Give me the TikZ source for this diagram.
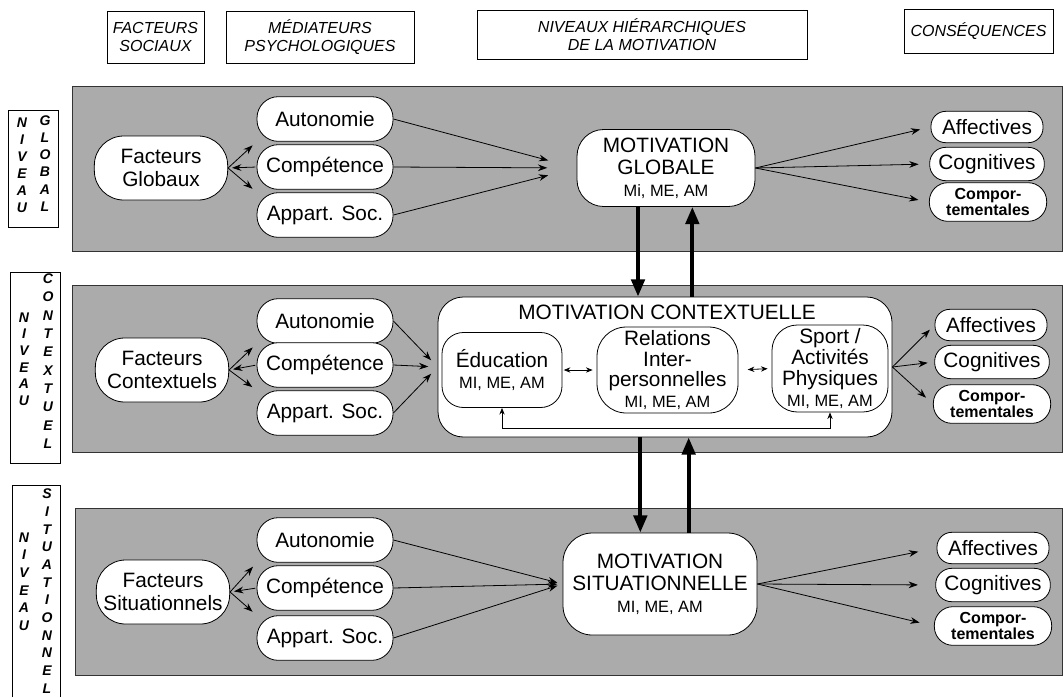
\documentclass[tikz,border=0pt]{standalone}
\usepackage{fontspec}
\setmainfont{Liberation Sans}
\usetikzlibrary{arrows.meta}
\newcommand\myfm{\fontsize{15.6}{16.5}\selectfont}
\newcommand\myfs{\fontsize{12.3}{14}\selectfont}
\newcommand\myfc{\fontsize{12}{12}\selectfont\bfseries}
\newcommand\myfh{\fontsize{12}{14}\selectfont\itshape}
\begin{document}
\begin{tikzpicture}[x=0.75pt,y=-0.75pt,
  band/.style={draw=black!80,line width=0.7pt,fill=black!33},
  hbox/.style={draw,line width=0.6pt,align=center,font=\myfh,inner sep=0pt},
  lbox/.style={draw,line width=0.6pt},
  lett/.style={align=center,inner sep=0pt},
  stad/.style={draw,line width=0.6pt,fill=white,inner sep=1pt,align=center,font=\myfm},
  fact/.style={stad,minimum width=100pt,minimum height=48pt,rounded corners=22pt,font=\fontsize{15.6}{17}\selectfont},
  med/.style={stad,minimum width=102pt,minimum height=33.5pt,rounded corners=16pt},
  motiv/.style={stad},
  sub/.style={stad,font=\fontsize{15.6}{15.7}\selectfont},
  consA/.style={stad,minimum width=84pt,minimum height=23.5pt,rounded corners=11pt},
  consB/.style={stad,minimum width=86pt,minimum height=25pt,rounded corners=12pt},
  consC/.style={stad,minimum width=88pt,minimum height=29pt,rounded corners=14pt,font=\myfc},
  arr/.style={line width=0.6pt,-{Stealth[length=7pt,width=5pt]}},
  darr/.style={line width=0.6pt,{Stealth[length=5pt,width=4pt]}-{Stealth[length=5pt,width=4pt]}},
  big/.style={line width=3pt,-{Triangle[length=13pt,width=10pt]}}
]
\useasboundingbox (0,0) rectangle (1063,697);

% header boxes
\node[hbox,minimum width=72.75pt,minimum height=39pt] (h1) at (155.5,37) {FACTEURS\\SOCIAUX};
\node[hbox,minimum width=141pt,minimum height=39pt] (h2) at (320,37) {MÉDIATEURS\\PSYCHOLOGIQUES};
\node[hbox,minimum width=247.5pt,minimum height=36.75pt] (h3) at (642,34.5) {NIVEAUX HIÉRARCHIQUES\\DE LA MOTIVATION};
\node[hbox,minimum width=111.75pt,minimum height=33pt] (h4) at (978.5,31) {CONSÉQUENCES};

% bands
\draw[band] (72,86) rectangle (1062,251);
\draw[band] (72,285) rectangle (1062,452);
\draw[band] (75,508) rectangle (1062,675);

% left labels
\node[lbox,minimum width=37.5pt,minimum height=87.75pt] (lg) at (33,168.5) {};
\node[lett,font=\fontsize{10.5}{12.75}\selectfont\bfseries\itshape] (lg1) at (22,165) {N\\I\\V\\E\\A\\U};
\node[lett,font=\fontsize{10.5}{12.9}\selectfont\bfseries\itshape] (lg2) at (45,163.5) {G\\L\\O\\B\\A\\L};
\node[lbox,minimum width=37.5pt,minimum height=143.25pt] (lc) at (35,367.5) {};
\node[lett,font=\fontsize{10.5}{12.5}\selectfont\bfseries\itshape] (lc1) at (24,359) {N\\I\\V\\E\\A\\U};
\node[lett,font=\fontsize{10.5}{13.75}\selectfont\bfseries\itshape] (lc2) at (48,361) {C\\O\\N\\T\\E\\X\\T\\U\\E\\L};
\draw[line width=0.6pt] (12,697) |- (60,485) -- (60,697);
\node[lett,font=\fontsize{10.5}{13.25}\selectfont\bfseries\itshape] (ls1) at (24,581.5) {N\\I\\V\\E\\A\\U};
\node[lett,font=\fontsize{10.5}{13.25}\selectfont\bfseries\itshape] (ls2) at (47,591) {S\\I\\T\\U\\A\\T\\I\\O\\N\\N\\E\\L};

% ---------- global level
\node[fact] (fg) at (161,168) {Facteurs\\Globaux};
\node[med] (ga) at (325,119) {Autonomie};
\node[med] (gc) at (325,167) {Compétence};
\node[med] (gs) at (325,215) {Appart. Soc.};
\node[motiv,minimum width=133.5pt,minimum height=57.75pt,rounded corners=20pt] (mg) at (666,168) {MOTIVATION\\GLOBALE\\{\myfs Mi, ME, AM}};
\node[consA] (gaf) at (987,127) {Affectives};
\node[consB] (gco) at (987,164) {Cognitives};
\node[consC] (gcp) at (988,202) {Compor-\\tementales};

\draw[arr,shorten >=4pt] (fg.east) -- (ga.south west);
\draw[arr,shorten <=1pt,shorten >=3pt] (gc.west) -- (fg.east);
\draw[arr,shorten >=4pt] (fg.east) -- (gs.north west);
\draw[arr,shorten >=22pt] (ga.east) -- (mg.west);
\draw[arr,shorten >=22pt] (gc.east) -- (mg.west);
\draw[arr,shorten >=22pt] (gs.east) -- (mg.west);
\draw[arr,shorten >=8pt] (mg.east) -- (gaf.west);
\draw[arr,shorten >=8pt] (mg.east) -- (gco.west);
\draw[arr,shorten >=8pt] (mg.east) -- (gcp.west);

% ---------- contextual level
\node[fact] (fc) at (162,370) {Facteurs\\Contextuels};
\node[med] (ca) at (325,321) {Autonomie};
\node[med] (cc) at (325,365) {Compétence};
\node[med] (cs) at (325,413) {Appart. Soc.};
\node[motiv,minimum width=340.5pt,minimum height=105pt,rounded corners=19pt] (mc) at (665,367) {};
\node[font=\myfm,inner sep=0pt] (mct) at (667,312) {MOTIVATION CONTEXTUELLE};
\node[sub,minimum width=90pt,minimum height=56.25pt,rounded corners=16pt] (edu) at (502,370) {Éducation\\{\myfs MI, ME, AM}};
\node[sub,minimum width=105.75pt,minimum height=64.5pt,rounded corners=22pt,inner sep=0pt] (rel) at (667.5,370) {Relations\\Inter-\\personnelles\\{\myfs MI, ME, AM}};
\node[sub,minimum width=87pt,minimum height=65.25pt,rounded corners=19pt,inner sep=0pt] (spo) at (830,368.5) {Sport /\\Activités\\Physiques\\{\myfs MI, ME, AM}};
\node[consA] (caf) at (991,325) {Affectives};
\node[consB] (cco) at (992,362) {Cognitives};
\node[consC] (ccp) at (992,404) {Compor-\\tementales};

\draw[arr,shorten >=4pt] (fc.east) -- (ca.south west);
\draw[arr,shorten <=1pt,shorten >=3pt] (cc.west) -- (fc.east);
\draw[arr,shorten >=4pt] (fc.east) -- (cs.north west);
\draw[arr,shorten >=7pt] (ca.east) -- (mc.west);
\draw[arr,shorten >=7pt] (cc.east) -- (mc.west);
\draw[arr,shorten >=7pt] (cs.east) -- (mc.west);
\draw[darr,shorten <=1pt,shorten >=3pt] (edu.east) -- (rel.west);
\draw[darr,shorten <=7pt,shorten >=3pt] (rel.east) -- (spo.west);
\draw[darr] (edu.south) -- ++(0,-15pt) -| (spo.south);
\draw[arr,shorten >=5pt] (mc.east) -- (caf.west);
\draw[arr,shorten >=5pt] (mc.east) -- (cco.west);
\draw[arr,shorten >=7pt] (mc.east) -- (ccp.west);

% ---------- situational level
\node[fact] (fs) at (163,592) {Facteurs\\Situationnels};
\node[med] (sa) at (325,540) {Autonomie};
\node[med] (sc) at (325,588) {Compétence};
\node[med] (ss) at (325,638) {Appart. Soc.};
\node[motiv,minimum width=145.5pt,minimum height=76.5pt,rounded corners=22pt] (ms) at (660,584) {MOTIVATION\\SITUATIONNELLE\\{\myfs MI, ME, AM}};
\node[consA] (saf) at (993,548) {Affectives};
\node[consB] (sco) at (993,585) {Cognitives};
\node[consC] (scp) at (993,626) {Compor-\\tementales};

\draw[arr,shorten >=4pt] (fs.east) -- (sa.south west);
\draw[arr,shorten <=1pt,shorten >=3pt] (sc.west) -- (fs.east);
\draw[arr,shorten >=4pt] (fs.east) -- (ss.north west);
\draw[arr,shorten >=4pt] (sa.east) -- (ms.west);
\draw[arr,shorten >=4pt] (sc.east) -- (ms.west);
\draw[arr,shorten >=4pt] (ss.east) -- (ms.west);
\draw[arr,shorten >=14pt] (ms.east) -- (saf.west);
\draw[arr,shorten >=13pt] (ms.east) -- (sco.west);
\draw[arr,shorten >=11pt] (ms.east) -- (scp.west);

% ---------- vertical thick arrows
\draw[big] ([xshift=-21pt]mg.south) -- ([xshift=-21pt]mg.south |- mc.north);
\draw[big] ([xshift=20.5pt]mc.north) -- ([xshift=20.5pt]mc.north |- mg.south);
\draw[big] ([xshift=-18.5pt]mc.south) -- ([xshift=-18.5pt]mc.south |- ms.north);
\draw[big] ([xshift=21.5pt]ms.north) -- ([xshift=21.5pt]ms.north |- mc.south);
\end{tikzpicture}
\end{document}
